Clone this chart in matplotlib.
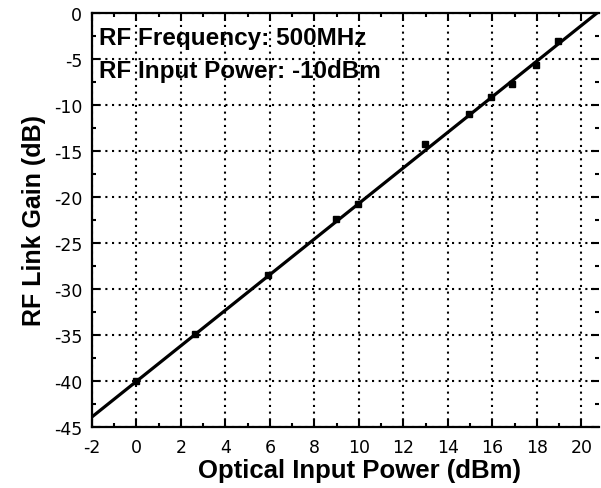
import numpy as np
from matplotlib import pyplot as plt
from matplotlib.ticker import MultipleLocator

plt.rcParams['font.family'] = ['Liberation Sans', 'DejaVu Sans']
plt.rcParams['axes.unicode_minus'] = False

opticalPower = [0, 2.65, 5.9, 8.95, 9.95, 12.95, 14.95, 15.95, 16.9, 17.95, 18.95]
linkGain = [-40.0, -34.9, -28.5, -22.4, -20.8, -14.2, -11.0, -9.1, -7.7, -5.7, -3.0]

# end points of the fitted line as drawn in the figure
fitX = [-2, 20.7]
fitY = [-43.9, 0.0]

fig = plt.figure(figsize=(6.01, 4.89), dpi=100)
ax = fig.add_axes([92/601, 1 - 428/489, (599 - 92)/601, (428 - 14)/489])

ax.plot(fitX, fitY, color='black', lw=2.3, zorder=3)
ax.plot(opticalPower, linkGain, 's', color='black', ms=5, zorder=4)

ax.set_xlim(-2, 20.79)
ax.set_ylim(-45, 0)
ax.xaxis.set_major_locator(MultipleLocator(2))
ax.xaxis.set_minor_locator(MultipleLocator(1))
ax.yaxis.set_major_locator(MultipleLocator(5))
ax.yaxis.set_minor_locator(MultipleLocator(2.5))
ax.tick_params(which='both', direction='in', top=True, right=True, width=1.5)
ax.tick_params(which='major', length=6)
ax.tick_params(which='minor', length=3)
ax.tick_params(axis='x', pad=8)
ax.tick_params(axis='y', pad=7)
for lab in ax.get_xticklabels() + ax.get_yticklabels():
    lab.set_fontfamily('DejaVu Sans')
    lab.set_fontsize(12.5)

ax.grid(True, which='major', color='black', ls=(0, (1, 2.2)), lw=1.5)
for s in ['left', 'bottom', 'top']:
    ax.spines[s].set_linewidth(1.6)
ax.spines['right'].set_visible(False)

ax.set_xlabel("Optical Input Power (dBm)", fontsize=18.5, fontweight='bold')
ax.xaxis.set_label_coords(0.527, -0.075)
ax.set_ylabel("RF Link Gain (dB)", fontsize=18, fontweight='bold', labelpad=6)

ax.text(0.013, 0.94, "RF Frequency: 500MHz", transform=ax.transAxes, fontsize=17.5,
        fontweight='bold', va='center', ha='left')
ax.text(0.013, 0.862, "RF Input Power: -10dBm", transform=ax.transAxes, fontsize=17.5,
        fontweight='bold', va='center', ha='left')

fig.savefig("out.png", dpi=100)
